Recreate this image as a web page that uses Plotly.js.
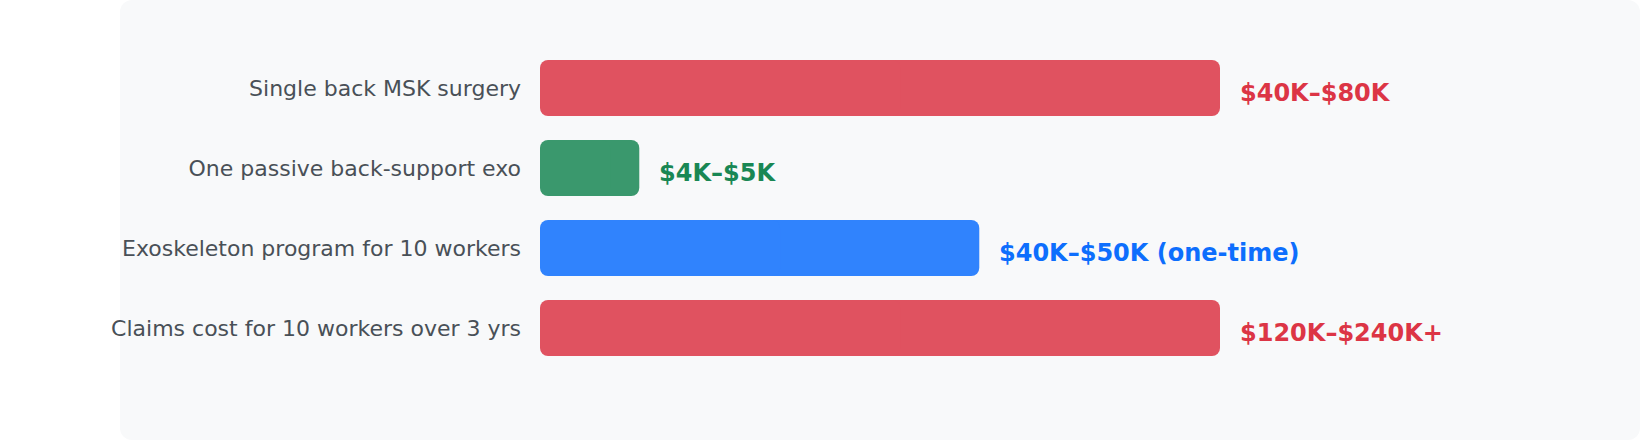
<!DOCTYPE html>
<html>
<head>
<meta charset="utf-8">
<script src="https://cdn.plot.ly/plotly-3.0.1.min.js"></script>
<style>
  html, body { margin:0; padding:0; background:#ffffff; width:1640px; height:440px; overflow:hidden; }
  #panel { position:absolute; left:120px; top:0; width:1520px; height:440px; background:#f8f9fa; border-radius:12px; }
  #chart { position:absolute; left:0; top:0; width:1640px; height:440px; }
</style>
</head>
<body>
<div id="panel"></div>
<div id="chart"></div>
<script>
// Data (bar lengths on a relative scale, labels as shown)
const categories = [
  "Single back MSK surgery",
  "One passive back-support exo",
  "Exoskeleton program for 10 workers",
  "Claims cost for 10 workers over 3 yrs"
];
const barValues = [100, 14.6, 64.6, 100];
const valueLabels = ["$40K–$80K", "$4K–$5K", "$40K–$50K (one-time)", "$120K–$240K+"];
const barColors = ["#e05260", "#3a986d", "#3083fd", "#e05260"];
const labelColors = ["#dc3545", "#198754", "#0d6efd", "#dc3545"];

// Each bar is drawn as two overlapping halves (opaque, same colour) so both ends get rounded corners
const overlap = 3;
const halves = barValues.map(v => v / 2);

const rightHalf = {
  type: "bar",
  orientation: "h",
  y: categories,
  base: halves.map(h => h - overlap),
  x: halves.map(h => h + overlap),
  marker: { color: barColors, cornerradius: 8, line: { width: 0 } },
  hoverinfo: "skip",
  showlegend: false
};
const leftHalf = {
  type: "bar",
  orientation: "h",
  y: categories,
  base: halves.map(h => h + overlap),
  x: halves.map(h => -(h + overlap)),
  marker: { color: barColors, cornerradius: 8, line: { width: 0 } },
  hoverinfo: "skip",
  showlegend: false
};

const annotations = categories.map((c, i) => ({
  x: barValues[i],
  y: c,
  xref: "x",
  yref: "y",
  text: "<b>" + valueLabels[i] + "</b>",
  showarrow: false,
  xanchor: "left",
  yanchor: "middle",
  xshift: 18,
  yshift: -5,
  font: { family: "DejaVu Sans", size: 24, color: labelColors[i] }
}));

const layout = {
  width: 1640,
  height: 440,
  margin: { l: 540, r: 148, t: 48, b: 72, pad: 0 },
  paper_bgcolor: "rgba(0,0,0,0)",
  plot_bgcolor: "rgba(0,0,0,0)",
  barmode: "overlay",
  bargap: 0.3,
  font: { family: "DejaVu Sans", color: "#495057" },
  xaxis: {
    range: [0, 140],
    showgrid: false,
    zeroline: false,
    showticklabels: false,
    showline: false,
    ticks: "",
    fixedrange: true
  },
  yaxis: {
    categoryorder: "array",
    categoryarray: categories.slice().reverse(),
    autorange: false,
    range: [-0.5, 3.5],
    showgrid: false,
    zeroline: false,
    showline: false,
    ticks: "",
    ticklabelstandoff: 18,
    tickfont: { family: "DejaVu Sans", size: 22, color: "#495057" },
    fixedrange: true
  },
  annotations: annotations
};

Plotly.newPlot("chart", [rightHalf, leftHalf], layout, { displayModeBar: false, staticPlot: true });
</script>
</body>
</html>
